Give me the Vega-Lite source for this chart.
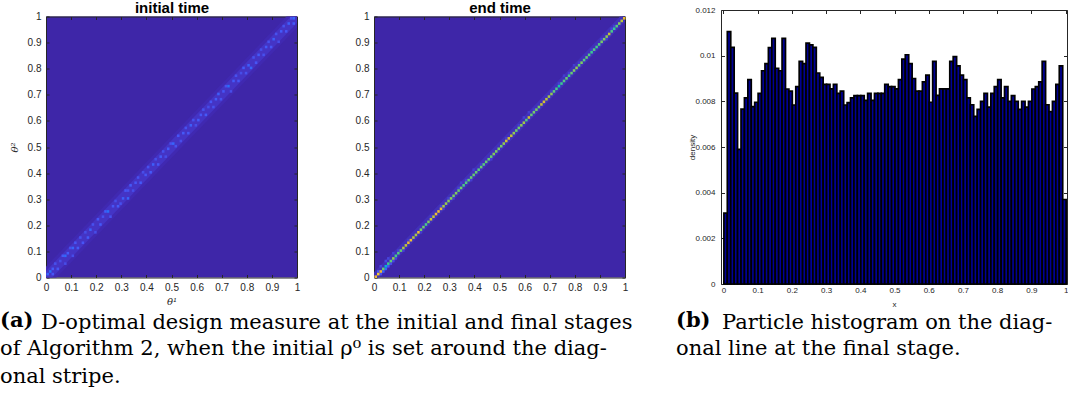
{
  "$schema": "https://vega.github.io/schema/vega-lite/v6.json",
  "background": "#ffffff",
  "padding": {"left": 0, "top": 0, "right": 0, "bottom": 0},
  "bounds": "flush",
  "center": true,
  "spacing": 0,
  "config": {
    "font": "Liberation Sans",
    "view": {"stroke": null},
    "axis": {
      "grid": false,
      "zindex": 1,
      "labelFont": "Liberation Sans",
      "labelColor": "#262626",
      "tickColor": "#262626",
      "domainColor": "#262626",
      "labelFlush": false,
      "labelOverlap": false,
      "domainWidth": 1,
      "tickWidth": 1
    },
    "title": {
      "orient": "bottom",
      "anchor": "start",
      "frame": "group",
      "font": "DejaVu Serif",
      "fontSize": 21,
      "fontWeight": "normal",
      "color": "#000000",
      "subtitleFont": "DejaVu Serif",
      "subtitleFontSize": 21,
      "subtitleFontWeight": "normal",
      "subtitleColor": "#000000",
      "subtitleLineHeight": 28,
      "subtitlePadding": 7
    }
  },
  "datasets": {
    "initBand": [
      {"t": 0, "outerLo": -0.042, "outerHi": 0.042, "innerLo": -0.025, "innerHi": 0.025},
      {"t": 1, "outerLo": 0.958, "outerHi": 1.042, "innerLo": 0.975, "innerHi": 1.025}
    ],
    "endBand": [
      {"t": 0, "lo": -0.02, "hi": 0.02},
      {"t": 1, "lo": 0.98, "hi": 1.02}
    ],
    "initCells": [
      {"x": 0, "y": 0.01, "v": 0.15}, {"x": 0.01, "y": 0.02, "v": 0.17}, {"x": 0.02, "y": 0.01, "v": 0.12}, {"x": 0.02, "y": 0.03, "v": 0.13},
      {"x": 0.03, "y": 0.05, "v": 0.11}, {"x": 0.04, "y": 0.03, "v": 0.12}, {"x": 0.05, "y": 0.06, "v": 0.1}, {"x": 0.06, "y": 0.08, "v": 0.13},
      {"x": 0.07, "y": 0.08, "v": 0.16}, {"x": 0.07, "y": 0.05, "v": 0.1}, {"x": 0.08, "y": 0.09, "v": 0.13}, {"x": 0.09, "y": 0.11, "v": 0.11},
      {"x": 0.1, "y": 0.11, "v": 0.15}, {"x": 0.1, "y": 0.08, "v": 0.1}, {"x": 0.11, "y": 0.13, "v": 0.12}, {"x": 0.12, "y": 0.11, "v": 0.13},
      {"x": 0.13, "y": 0.15, "v": 0.11}, {"x": 0.14, "y": 0.13, "v": 0.12}, {"x": 0.15, "y": 0.17, "v": 0.1}, {"x": 0.16, "y": 0.15, "v": 0.13},
      {"x": 0.17, "y": 0.18, "v": 0.14}, {"x": 0.18, "y": 0.2, "v": 0.11}, {"x": 0.19, "y": 0.17, "v": 0.1}, {"x": 0.2, "y": 0.22, "v": 0.12},
      {"x": 0.21, "y": 0.2, "v": 0.13}, {"x": 0.22, "y": 0.23, "v": 0.11}, {"x": 0.23, "y": 0.25, "v": 0.14}, {"x": 0.24, "y": 0.25, "v": 0.17},
      {"x": 0.25, "y": 0.23, "v": 0.11}, {"x": 0.26, "y": 0.27, "v": 0.12}, {"x": 0.27, "y": 0.29, "v": 0.1}, {"x": 0.28, "y": 0.27, "v": 0.13},
      {"x": 0.29, "y": 0.28, "v": 0.11}, {"x": 0.3, "y": 0.3, "v": 0.14}, {"x": 0.31, "y": 0.33, "v": 0.12}, {"x": 0.32, "y": 0.3, "v": 0.15},
      {"x": 0.32, "y": 0.33, "v": 0.11}, {"x": 0.33, "y": 0.35, "v": 0.13}, {"x": 0.34, "y": 0.33, "v": 0.1}, {"x": 0.35, "y": 0.36, "v": 0.12},
      {"x": 0.36, "y": 0.38, "v": 0.11}, {"x": 0.37, "y": 0.36, "v": 0.13}, {"x": 0.38, "y": 0.4, "v": 0.1}, {"x": 0.39, "y": 0.39, "v": 0.12},
      {"x": 0.4, "y": 0.42, "v": 0.11}, {"x": 0.41, "y": 0.4, "v": 0.13}, {"x": 0.42, "y": 0.43, "v": 0.14}, {"x": 0.43, "y": 0.45, "v": 0.1},
      {"x": 0.44, "y": 0.43, "v": 0.12}, {"x": 0.45, "y": 0.46, "v": 0.13}, {"x": 0.46, "y": 0.48, "v": 0.11}, {"x": 0.47, "y": 0.46, "v": 0.1},
      {"x": 0.48, "y": 0.49, "v": 0.13}, {"x": 0.49, "y": 0.51, "v": 0.11}, {"x": 0.5, "y": 0.51, "v": 0.15}, {"x": 0.51, "y": 0.5, "v": 0.11},
      {"x": 0.52, "y": 0.54, "v": 0.12}, {"x": 0.53, "y": 0.52, "v": 0.1}, {"x": 0.54, "y": 0.55, "v": 0.13}, {"x": 0.55, "y": 0.57, "v": 0.11},
      {"x": 0.56, "y": 0.55, "v": 0.12}, {"x": 0.57, "y": 0.58, "v": 0.14}, {"x": 0.58, "y": 0.6, "v": 0.11}, {"x": 0.59, "y": 0.58, "v": 0.1},
      {"x": 0.6, "y": 0.6, "v": 0.13}, {"x": 0.61, "y": 0.62, "v": 0.12}, {"x": 0.62, "y": 0.64, "v": 0.11}, {"x": 0.63, "y": 0.62, "v": 0.13},
      {"x": 0.64, "y": 0.65, "v": 0.1}, {"x": 0.65, "y": 0.67, "v": 0.12}, {"x": 0.66, "y": 0.65, "v": 0.11}, {"x": 0.67, "y": 0.68, "v": 0.13},
      {"x": 0.68, "y": 0.7, "v": 0.14}, {"x": 0.69, "y": 0.68, "v": 0.11}, {"x": 0.7, "y": 0.71, "v": 0.12}, {"x": 0.71, "y": 0.73, "v": 0.11},
      {"x": 0.72, "y": 0.73, "v": 0.17}, {"x": 0.73, "y": 0.71, "v": 0.1}, {"x": 0.74, "y": 0.75, "v": 0.13}, {"x": 0.75, "y": 0.77, "v": 0.11},
      {"x": 0.76, "y": 0.75, "v": 0.12}, {"x": 0.77, "y": 0.78, "v": 0.1}, {"x": 0.78, "y": 0.8, "v": 0.13}, {"x": 0.79, "y": 0.78, "v": 0.11},
      {"x": 0.8, "y": 0.81, "v": 0.14}, {"x": 0.81, "y": 0.8, "v": 0.15}, {"x": 0.82, "y": 0.84, "v": 0.11}, {"x": 0.83, "y": 0.82, "v": 0.12},
      {"x": 0.84, "y": 0.85, "v": 0.13}, {"x": 0.85, "y": 0.87, "v": 0.1}, {"x": 0.86, "y": 0.85, "v": 0.11}, {"x": 0.87, "y": 0.88, "v": 0.13},
      {"x": 0.88, "y": 0.9, "v": 0.11}, {"x": 0.89, "y": 0.88, "v": 0.12}, {"x": 0.9, "y": 0.91, "v": 0.14}, {"x": 0.91, "y": 0.93, "v": 0.11},
      {"x": 0.92, "y": 0.9, "v": 0.1}, {"x": 0.93, "y": 0.94, "v": 0.13}, {"x": 0.94, "y": 0.96, "v": 0.11}, {"x": 0.95, "y": 0.94, "v": 0.12},
      {"x": 0.96, "y": 0.97, "v": 0.14}, {"x": 0.97, "y": 0.99, "v": 0.11}, {"x": 0.98, "y": 0.97, "v": 0.13}, {"x": 0.98, "y": 0.99, "v": 0.15}
    ],
    "endCells": [
      {"x": 0.01, "y": 0.02, "v": 0.12}, {"x": 0.02, "y": 0.01, "v": 0.1}, {"x": 0.02, "y": 0.04, "v": 0.08}, {"x": 0.03, "y": 0.02, "v": 0.14},
      {"x": 0.04, "y": 0.03, "v": 0.16}, {"x": 0.04, "y": 0.06, "v": 0.09}, {"x": 0.05, "y": 0.04, "v": 0.12}, {"x": 0.05, "y": 0.07, "v": 0.08},
      {"x": 0.06, "y": 0.05, "v": 0.1}, {"x": 0.07, "y": 0.06, "v": 0.09}, {"x": 0.07, "y": 0.09, "v": 0.07}, {"x": 0.08, "y": 0.07, "v": 0.08},
      {"x": 0.09, "y": 0.1, "v": 0.07}, {"x": 0.11, "y": 0.1, "v": 0.07}, {"x": 0.13, "y": 0.14, "v": 0.06}, {"x": 0.18, "y": 0.17, "v": 0.06},
      {"x": 0.22, "y": 0.23, "v": 0.06}, {"x": 0.26, "y": 0.27, "v": 0.07}, {"x": 0.27, "y": 0.26, "v": 0.06}, {"x": 0.29, "y": 0.3, "v": 0.07},
      {"x": 0.31, "y": 0.3, "v": 0.06}, {"x": 0.33, "y": 0.34, "v": 0.07}, {"x": 0.34, "y": 0.36, "v": 0.06}, {"x": 0.36, "y": 0.37, "v": 0.07},
      {"x": 0.38, "y": 0.37, "v": 0.06}, {"x": 0.39, "y": 0.41, "v": 0.06}, {"x": 0.42, "y": 0.43, "v": 0.06}, {"x": 0.46, "y": 0.45, "v": 0.06},
      {"x": 0.52, "y": 0.53, "v": 0.06}, {"x": 0.57, "y": 0.58, "v": 0.06}, {"x": 0.59, "y": 0.61, "v": 0.07}, {"x": 0.61, "y": 0.63, "v": 0.06},
      {"x": 0.63, "y": 0.64, "v": 0.06}, {"x": 0.7, "y": 0.71, "v": 0.06}, {"x": 0.73, "y": 0.74, "v": 0.07}, {"x": 0.75, "y": 0.77, "v": 0.06},
      {"x": 0.77, "y": 0.78, "v": 0.07}, {"x": 0.79, "y": 0.81, "v": 0.06}, {"x": 0.81, "y": 0.82, "v": 0.06}, {"x": 0.86, "y": 0.87, "v": 0.06},
      {"x": 0.9, "y": 0.91, "v": 0.07}, {"x": 0.92, "y": 0.91, "v": 0.06}, {"x": 0.94, "y": 0.95, "v": 0.08}, {"x": 0.95, "y": 0.96, "v": 0.07},
      {"x": 0, "y": 0, "v": 0.75}, {"x": 0.01, "y": 0.01, "v": 0.8}, {"x": 0.02, "y": 0.02, "v": 0.75}, {"x": 0.03, "y": 0.03, "v": 0.57},
      {"x": 0.04, "y": 0.04, "v": 0.36}, {"x": 0.05, "y": 0.05, "v": 0.51}, {"x": 0.06, "y": 0.06, "v": 0.56}, {"x": 0.07, "y": 0.07, "v": 0.63},
      {"x": 0.08, "y": 0.08, "v": 0.52}, {"x": 0.09, "y": 0.09, "v": 0.54}, {"x": 0.1, "y": 0.1, "v": 0.57}, {"x": 0.11, "y": 0.11, "v": 0.66},
      {"x": 0.12, "y": 0.12, "v": 0.69}, {"x": 0.13, "y": 0.13, "v": 0.75}, {"x": 0.14, "y": 0.14, "v": 0.79}, {"x": 0.15, "y": 0.15, "v": 0.67},
      {"x": 0.16, "y": 0.16, "v": 0.66}, {"x": 0.17, "y": 0.17, "v": 0.79}, {"x": 0.18, "y": 0.18, "v": 0.59}, {"x": 0.19, "y": 0.19, "v": 0.58},
      {"x": 0.2, "y": 0.2, "v": 0.53}, {"x": 0.21, "y": 0.21, "v": 0.6}, {"x": 0.22, "y": 0.22, "v": 0.7}, {"x": 0.23, "y": 0.23, "v": 0.69},
      {"x": 0.24, "y": 0.24, "v": 0.77}, {"x": 0.25, "y": 0.25, "v": 0.76}, {"x": 0.26, "y": 0.26, "v": 0.75}, {"x": 0.27, "y": 0.27, "v": 0.65},
      {"x": 0.28, "y": 0.28, "v": 0.64}, {"x": 0.29, "y": 0.29, "v": 0.61}, {"x": 0.3, "y": 0.3, "v": 0.61}, {"x": 0.31, "y": 0.31, "v": 0.59},
      {"x": 0.32, "y": 0.32, "v": 0.61}, {"x": 0.33, "y": 0.33, "v": 0.57}, {"x": 0.34, "y": 0.34, "v": 0.58}, {"x": 0.35, "y": 0.35, "v": 0.53},
      {"x": 0.36, "y": 0.36, "v": 0.54}, {"x": 0.37, "y": 0.37, "v": 0.56}, {"x": 0.38, "y": 0.38, "v": 0.57}, {"x": 0.39, "y": 0.39, "v": 0.57},
      {"x": 0.4, "y": 0.4, "v": 0.57}, {"x": 0.41, "y": 0.41, "v": 0.55}, {"x": 0.42, "y": 0.42, "v": 0.57}, {"x": 0.43, "y": 0.43, "v": 0.55},
      {"x": 0.44, "y": 0.44, "v": 0.57}, {"x": 0.45, "y": 0.45, "v": 0.57}, {"x": 0.46, "y": 0.46, "v": 0.57}, {"x": 0.47, "y": 0.47, "v": 0.61},
      {"x": 0.48, "y": 0.48, "v": 0.6}, {"x": 0.49, "y": 0.49, "v": 0.6}, {"x": 0.5, "y": 0.5, "v": 0.59}, {"x": 0.51, "y": 0.51, "v": 0.63},
      {"x": 0.52, "y": 0.52, "v": 0.71}, {"x": 0.53, "y": 0.53, "v": 0.72}, {"x": 0.54, "y": 0.54, "v": 0.69}, {"x": 0.55, "y": 0.55, "v": 0.63},
      {"x": 0.56, "y": 0.56, "v": 0.58}, {"x": 0.57, "y": 0.57, "v": 0.58}, {"x": 0.58, "y": 0.58, "v": 0.62}, {"x": 0.59, "y": 0.59, "v": 0.65},
      {"x": 0.6, "y": 0.6, "v": 0.54}, {"x": 0.61, "y": 0.61, "v": 0.7}, {"x": 0.62, "y": 0.62, "v": 0.57}, {"x": 0.63, "y": 0.63, "v": 0.59},
      {"x": 0.64, "y": 0.64, "v": 0.59}, {"x": 0.65, "y": 0.65, "v": 0.59}, {"x": 0.66, "y": 0.66, "v": 0.7}, {"x": 0.67, "y": 0.67, "v": 0.72},
      {"x": 0.68, "y": 0.68, "v": 0.68}, {"x": 0.69, "y": 0.69, "v": 0.65}, {"x": 0.7, "y": 0.7, "v": 0.63}, {"x": 0.71, "y": 0.71, "v": 0.56},
      {"x": 0.72, "y": 0.72, "v": 0.53}, {"x": 0.73, "y": 0.73, "v": 0.48}, {"x": 0.74, "y": 0.74, "v": 0.51}, {"x": 0.75, "y": 0.75, "v": 0.54},
      {"x": 0.76, "y": 0.76, "v": 0.57}, {"x": 0.77, "y": 0.77, "v": 0.52}, {"x": 0.78, "y": 0.78, "v": 0.57}, {"x": 0.79, "y": 0.79, "v": 0.6},
      {"x": 0.8, "y": 0.8, "v": 0.63}, {"x": 0.81, "y": 0.81, "v": 0.56}, {"x": 0.82, "y": 0.82, "v": 0.6}, {"x": 0.83, "y": 0.83, "v": 0.54},
      {"x": 0.84, "y": 0.84, "v": 0.57}, {"x": 0.85, "y": 0.85, "v": 0.54}, {"x": 0.86, "y": 0.86, "v": 0.51}, {"x": 0.87, "y": 0.87, "v": 0.54},
      {"x": 0.88, "y": 0.88, "v": 0.52}, {"x": 0.89, "y": 0.89, "v": 0.54}, {"x": 0.9, "y": 0.9, "v": 0.59}, {"x": 0.91, "y": 0.91, "v": 0.6},
      {"x": 0.92, "y": 0.92, "v": 0.62}, {"x": 0.93, "y": 0.93, "v": 0.7}, {"x": 0.94, "y": 0.94, "v": 0.53}, {"x": 0.95, "y": 0.95, "v": 0.5},
      {"x": 0.96, "y": 0.96, "v": 0.54}, {"x": 0.97, "y": 0.97, "v": 0.61}, {"x": 0.98, "y": 0.98, "v": 0.68}, {"x": 0.99, "y": 0.99, "v": 0.74}
    ],
    "hist": [
      {"x": 0, "d": 0.0031}, {"x": 0.01, "d": 0.01105}, {"x": 0.02, "d": 0.01036}, {"x": 0.03, "d": 0.00836}, {"x": 0.04, "d": 0.0059},
      {"x": 0.05, "d": 0.00766}, {"x": 0.06, "d": 0.00815}, {"x": 0.07, "d": 0.00895}, {"x": 0.08, "d": 0.00777}, {"x": 0.09, "d": 0.00796},
      {"x": 0.1, "d": 0.00835}, {"x": 0.11, "d": 0.00934}, {"x": 0.12, "d": 0.00965}, {"x": 0.13, "d": 0.01035}, {"x": 0.14, "d": 0.01076},
      {"x": 0.15, "d": 0.00945}, {"x": 0.16, "d": 0.00934}, {"x": 0.17, "d": 0.01076}, {"x": 0.18, "d": 0.00854}, {"x": 0.19, "d": 0.00845},
      {"x": 0.2, "d": 0.00784}, {"x": 0.21, "d": 0.00864}, {"x": 0.22, "d": 0.00975}, {"x": 0.23, "d": 0.00965}, {"x": 0.24, "d": 0.01055},
      {"x": 0.25, "d": 0.01047}, {"x": 0.26, "d": 0.01036}, {"x": 0.27, "d": 0.00924}, {"x": 0.28, "d": 0.00905}, {"x": 0.29, "d": 0.00874},
      {"x": 0.3, "d": 0.00874}, {"x": 0.31, "d": 0.00855}, {"x": 0.32, "d": 0.00874}, {"x": 0.33, "d": 0.00835}, {"x": 0.34, "d": 0.00845},
      {"x": 0.35, "d": 0.00784}, {"x": 0.36, "d": 0.00794}, {"x": 0.37, "d": 0.00815}, {"x": 0.38, "d": 0.00825}, {"x": 0.39, "d": 0.00825},
      {"x": 0.4, "d": 0.00825}, {"x": 0.41, "d": 0.00804}, {"x": 0.42, "d": 0.00835}, {"x": 0.43, "d": 0.00804}, {"x": 0.44, "d": 0.00835},
      {"x": 0.45, "d": 0.00835}, {"x": 0.46, "d": 0.00835}, {"x": 0.47, "d": 0.00874}, {"x": 0.48, "d": 0.00864}, {"x": 0.49, "d": 0.00864},
      {"x": 0.5, "d": 0.00855}, {"x": 0.51, "d": 0.00895}, {"x": 0.52, "d": 0.00985}, {"x": 0.53, "d": 0.01004}, {"x": 0.54, "d": 0.00965},
      {"x": 0.55, "d": 0.009}, {"x": 0.56, "d": 0.00845}, {"x": 0.57, "d": 0.00845}, {"x": 0.58, "d": 0.00885}, {"x": 0.59, "d": 0.00915},
      {"x": 0.6, "d": 0.00796}, {"x": 0.61, "d": 0.00975}, {"x": 0.62, "d": 0.00826}, {"x": 0.63, "d": 0.00855}, {"x": 0.64, "d": 0.00855},
      {"x": 0.65, "d": 0.00855}, {"x": 0.66, "d": 0.00975}, {"x": 0.67, "d": 0.00996}, {"x": 0.68, "d": 0.00955}, {"x": 0.69, "d": 0.00915},
      {"x": 0.7, "d": 0.00895}, {"x": 0.71, "d": 0.00815}, {"x": 0.72, "d": 0.00785}, {"x": 0.73, "d": 0.00734}, {"x": 0.74, "d": 0.00765},
      {"x": 0.75, "d": 0.008}, {"x": 0.76, "d": 0.00835}, {"x": 0.77, "d": 0.00775}, {"x": 0.78, "d": 0.00835}, {"x": 0.79, "d": 0.00864},
      {"x": 0.8, "d": 0.00895}, {"x": 0.81, "d": 0.00815}, {"x": 0.82, "d": 0.00864}, {"x": 0.83, "d": 0.008}, {"x": 0.84, "d": 0.00825},
      {"x": 0.85, "d": 0.008}, {"x": 0.86, "d": 0.00765}, {"x": 0.87, "d": 0.008}, {"x": 0.88, "d": 0.00775}, {"x": 0.89, "d": 0.008},
      {"x": 0.9, "d": 0.00854}, {"x": 0.91, "d": 0.00864}, {"x": 0.92, "d": 0.00885}, {"x": 0.93, "d": 0.00975}, {"x": 0.94, "d": 0.00785},
      {"x": 0.95, "d": 0.00755}, {"x": 0.96, "d": 0.008}, {"x": 0.97, "d": 0.00874}, {"x": 0.98, "d": 0.00955}, {"x": 0.99, "d": 0.0037}
    ]
  },
  "hconcat": [
    {
      "width": 251,
      "height": 261,
      "title": {
        "text": "(a)",
        "fontWeight": "bold",
        "subtitle": [
          "of Algorithm 2, when the initial ρ⁰ is set around the diag-",
          "onal stripe."
        ],
        "dx": -46,
        "offset": 3
      },
      "view": {"fill": "#3E26A8"},
      "layer": [
        {
          "data": {"name": "initBand"},
          "mark": {"type": "area", "color": "#4029B1", "clip": true},
          "encoding": {
            "x": {
              "field": "t", "type": "quantitative",
              "scale": {"domain": [0, 1], "nice": false, "zero": false},
              "axis": {
                "orient": "bottom", "values": [0, 0.1, 0.2, 0.3, 0.4, 0.5, 0.6, 0.7, 0.8, 0.9, 1], "format": "~g",
                "labelFontSize": 10, "tickSize": -3, "labelPadding": 8,
                "title": "θ¹", "titleFont": "DejaVu Serif", "titleFontStyle": "italic", "titleFontWeight": "normal",
                "titleFontSize": 10, "titleColor": "#262626", "titlePadding": 4
              }
            },
            "y": {
              "field": "outerLo", "type": "quantitative",
              "scale": {"domain": [0, 1], "nice": false, "zero": false},
              "axis": {
                "orient": "left", "values": [0, 0.1, 0.2, 0.3, 0.4, 0.5, 0.6, 0.7, 0.8, 0.9, 1], "format": "~g",
                "labelFontSize": 10, "tickSize": -3, "labelPadding": 8,
                "title": "θ²", "titleFont": "DejaVu Serif", "titleFontStyle": "italic", "titleFontWeight": "normal",
                "titleFontSize": 10, "titleColor": "#262626", "titlePadding": 8
              }
            },
            "y2": {"field": "outerHi"}
          }
        },
        {
          "data": {"name": "initBand"},
          "mark": {"type": "area", "color": "#4434C5", "clip": true},
          "encoding": {
            "x": {"field": "t", "type": "quantitative", "axis": null},
            "y": {"field": "innerLo", "type": "quantitative", "axis": null},
            "y2": {"field": "innerHi"}
          }
        },
        {
          "data": {"name": "initCells"},
          "mark": {"type": "rect", "binSpacing": 0},
          "encoding": {
            "x": {
              "field": "x", "type": "quantitative", "bin": {"binned": true, "step": 0.01},
              "axis": {
                "orient": "top", "values": [0, 0.1, 0.2, 0.3, 0.4, 0.5, 0.6, 0.7, 0.8, 0.9, 1], "labels": false, "tickSize": -3,
                "title": "initial time", "titleFont": "Liberation Sans", "titleFontSize": 15, "titleFontWeight": "bold",
                "titleColor": "#000000", "titlePadding": 1
              }
            },
            "y": {
              "field": "y", "type": "quantitative", "bin": {"binned": true, "step": 0.01},
              "axis": {"orient": "right", "values": [0, 0.1, 0.2, 0.3, 0.4, 0.5, 0.6, 0.7, 0.8, 0.9, 1], "labels": false, "tickSize": -3, "title": null}
            },
            "color": {
              "field": "v", "type": "quantitative", "legend": null,
              "scale": {
                "domain": [0, 0.125, 0.25, 0.375, 0.5, 0.625, 0.75, 0.875, 1],
                "range": ["#3E26A8", "#4757F8", "#2B8FF0", "#0DB5D5", "#35C896", "#8FCB53", "#EDBA32", "#F9D82A", "#F9FB0E"]
              }
            }
          }
        }
      ],
      "resolve": {"axis": {"x": "independent", "y": "independent"}}
    },
    {
      "width": 77,
      "height": 261,
      "title": {
        "text": "D-optimal design measure at the initial and final stages",
        "dx": -256,
        "offset": 34
      },
      "data": {"values": []},
      "mark": {"type": "point", "opacity": 0},
      "encoding": {}
    },
    {
      "width": 251,
      "height": 261,
      "view": {"fill": "#3E26A8"},
      "layer": [
        {
          "data": {"name": "endBand"},
          "mark": {"type": "area", "color": "#4130B9", "clip": true},
          "encoding": {
            "x": {
              "field": "t", "type": "quantitative",
              "scale": {"domain": [0, 1], "nice": false, "zero": false},
              "axis": {
                "orient": "bottom", "values": [0, 0.1, 0.2, 0.3, 0.4, 0.5, 0.6, 0.7, 0.8, 0.9, 1], "format": "~g",
                "labelFontSize": 10, "tickSize": -3, "labelPadding": 8, "title": null
              }
            },
            "y": {
              "field": "lo", "type": "quantitative",
              "scale": {"domain": [0, 1], "nice": false, "zero": false},
              "axis": {
                "orient": "left", "values": [0, 0.1, 0.2, 0.3, 0.4, 0.5, 0.6, 0.7, 0.8, 0.9, 1], "format": "~g",
                "labelFontSize": 10, "tickSize": -3, "labelPadding": 8, "title": null
              }
            },
            "y2": {"field": "hi"}
          }
        },
        {
          "data": {"name": "endCells"},
          "mark": {"type": "rect", "binSpacing": 0},
          "encoding": {
            "x": {
              "field": "x", "type": "quantitative", "bin": {"binned": true, "step": 0.01},
              "axis": {
                "orient": "top", "values": [0, 0.1, 0.2, 0.3, 0.4, 0.5, 0.6, 0.7, 0.8, 0.9, 1], "labels": false, "tickSize": -3,
                "title": "end time", "titleFont": "Liberation Sans", "titleFontSize": 15, "titleFontWeight": "bold",
                "titleColor": "#000000", "titlePadding": 1
              }
            },
            "y": {
              "field": "y", "type": "quantitative", "bin": {"binned": true, "step": 0.01},
              "axis": {"orient": "right", "values": [0, 0.1, 0.2, 0.3, 0.4, 0.5, 0.6, 0.7, 0.8, 0.9, 1], "labels": false, "tickSize": -3, "title": null}
            },
            "color": {
              "field": "v", "type": "quantitative", "legend": null,
              "scale": {
                "domain": [0, 0.125, 0.25, 0.375, 0.5, 0.625, 0.75, 0.875, 1],
                "range": ["#3E26A8", "#4757F8", "#2B8FF0", "#0DB5D5", "#35C896", "#8FCB53", "#EDBA32", "#F9D82A", "#F9FB0E"]
              }
            }
          }
        }
      ],
      "resolve": {"axis": {"x": "independent", "y": "independent"}}
    },
    {
      "width": 96,
      "height": 261,
      "title": {
        "text": "Particle histogram on the diag-",
        "dx": 97,
        "offset": 34
      },
      "data": {"values": []},
      "mark": {"type": "point", "opacity": 0},
      "encoding": {}
    },
    {
      "width": 346,
      "height": 274,
      "data": {"name": "hist"},
      "title": {
        "text": "(b)",
        "fontWeight": "bold",
        "subtitle": "onal line at the final stage.",
        "dx": -45,
        "offset": 1
      },
      "layer": [
        {
          "mark": {"type": "bar", "binSpacing": 0, "fill": "#000096", "stroke": "#000000", "strokeWidth": 1.7},
          "encoding": {
            "x": {
              "field": "x", "type": "quantitative", "bin": {"binned": true, "step": 0.01},
              "scale": {"domain": [-0.007, 1.004], "nice": false, "zero": false},
              "axis": {
                "orient": "bottom", "values": [0, 0.1, 0.2, 0.3, 0.4, 0.5, 0.6, 0.7, 0.8, 0.9, 1], "format": "~g",
                "labelFontSize": 8, "tickSize": -3.5, "labelPadding": 6,
                "title": "x", "titleFontSize": 8, "titleFontWeight": "normal", "titleColor": "#262626", "titlePadding": 6
              }
            },
            "y": {
              "field": "d", "type": "quantitative",
              "scale": {"domain": [0, 0.012], "nice": false, "zero": true},
              "axis": {
                "orient": "left", "values": [0, 0.002, 0.004, 0.006, 0.008, 0.01, 0.012], "format": "~g",
                "labelFontSize": 8, "tickSize": -3.5, "labelPadding": 9.5,
                "title": "density", "titleFontSize": 8, "titleFontWeight": "normal", "titleColor": "#262626", "titlePadding": -2
              }
            }
          }
        },
        {
          "mark": {"type": "bar", "binSpacing": 0, "opacity": 0},
          "encoding": {
            "x": {
              "field": "x", "type": "quantitative", "bin": {"binned": true, "step": 0.01},
              "axis": {"orient": "top", "values": [0, 0.1, 0.2, 0.3, 0.4, 0.5, 0.6, 0.7, 0.8, 0.9, 1], "labels": false, "tickSize": -3.5, "title": null}
            },
            "y": {
              "field": "d", "type": "quantitative",
              "axis": {"orient": "right", "values": [0, 0.002, 0.004, 0.006, 0.008, 0.01, 0.012], "labels": false, "tickSize": -3.5, "title": null}
            }
          }
        }
      ],
      "resolve": {"axis": {"x": "independent", "y": "independent"}}
    }
  ]
}
